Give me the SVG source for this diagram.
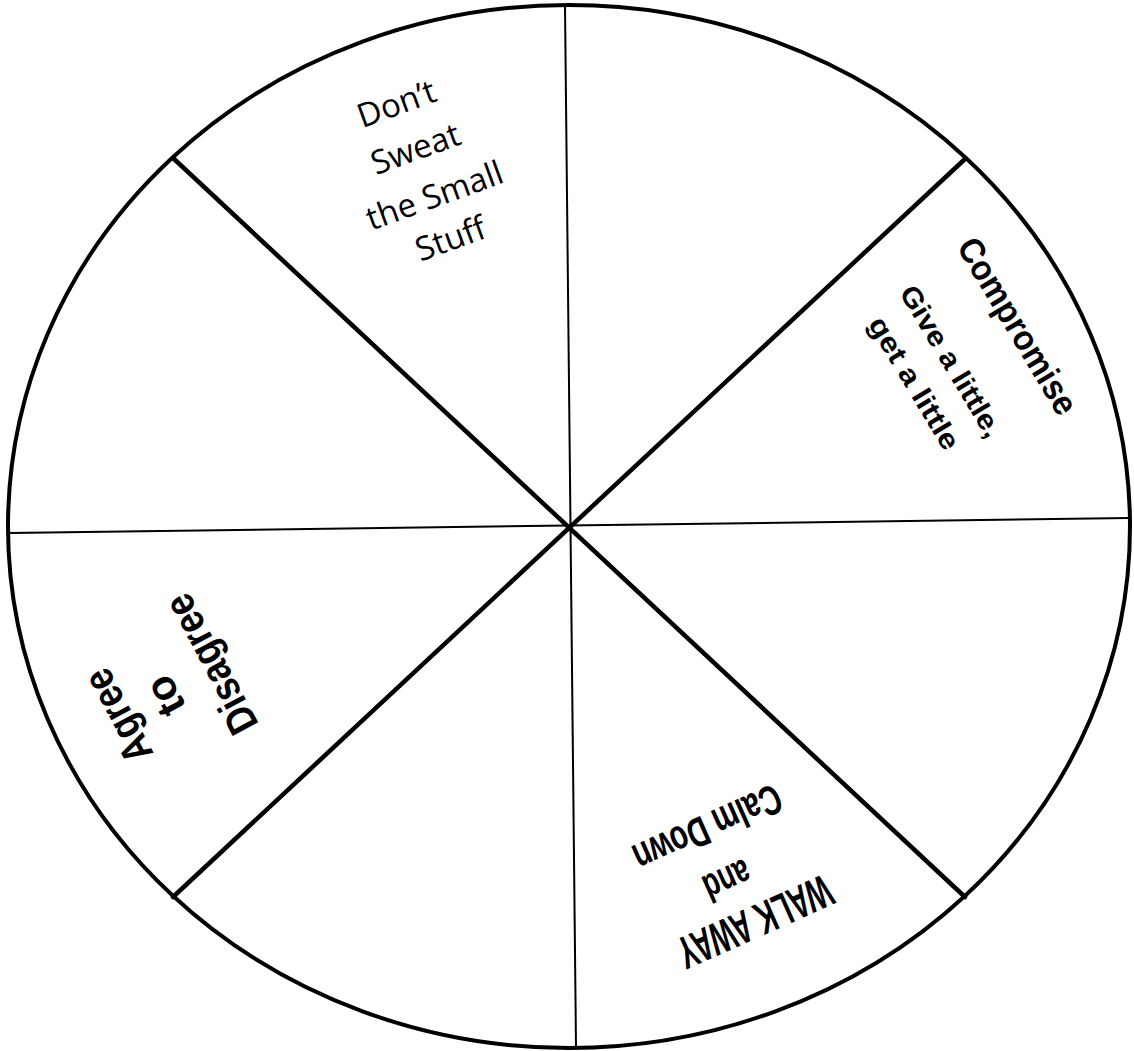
<svg xmlns="http://www.w3.org/2000/svg" width="1134" height="1051" viewBox="0 0 1134 1051">
<style>
.thin{stroke:#000;stroke-width:2;fill:none}
.thick{stroke:#000;stroke-width:4.5;fill:none;stroke-linecap:round}
.rim{stroke:#000;stroke-width:4;fill:#fff}
.hand{font-family:"Open Sans","Noto Sans",sans-serif;font-weight:normal;font-size:33px;fill:#000}
.bold{font-family:"Liberation Sans","Noto Sans",sans-serif;font-weight:bold;fill:#000}
.cond{font-family:"Liberation Sans","DejaVu Sans",sans-serif;font-weight:bold;fill:#000}
</style>
<rect width="1134" height="1051" fill="#fff"/>
<g id="wheel">
<ellipse class="rim" cx="569" cy="526.5" rx="561" ry="521.5"/>
</g>
<g id="connectors">
<line class="thin" x1="565" y1="6" x2="576" y2="1047"/>
<line class="thin" x1="9" y1="533" x2="1129" y2="518"/>
<line class="thick" x1="173" y1="158" x2="965" y2="897"/>
<line class="thick" x1="965" y1="159" x2="173" y2="897"/>
</g>
<g id="dont-sweat" text-anchor="middle">
<text class="hand" transform="translate(397,105) rotate(-20)" y="10">Don’t</text>
<text class="hand" transform="translate(416,150) rotate(-20)" y="10">Sweat</text>
<text class="hand" transform="translate(435,197) rotate(-20)" y="10">the Small</text>
<text class="hand" transform="translate(451,240) rotate(-20)" y="10">Stuff</text>
</g>
<g id="compromise" text-anchor="middle">
<text class="bold" font-size="35" transform="translate(1016,327) rotate(59)" y="10" textLength="200" lengthAdjust="spacingAndGlyphs">Compromise</text>
<text class="bold" font-size="28" transform="translate(950,362) rotate(59)" y="8" textLength="172" lengthAdjust="spacingAndGlyphs">Give a little,</text>
<text class="bold" font-size="28" transform="translate(913,384) rotate(59)" y="8" textLength="150" lengthAdjust="spacingAndGlyphs">get a little</text>
</g>
<g id="agree-to-disagree" text-anchor="middle">
<text class="bold" font-size="42" transform="translate(120,715) rotate(242)" y="12" textLength="100" lengthAdjust="spacingAndGlyphs">Agree</text>
<text class="bold" font-size="42" transform="translate(167,695) rotate(242)" y="12">to</text>
<text class="bold" font-size="42" transform="translate(213,663) rotate(242)" y="12" textLength="152" lengthAdjust="spacingAndGlyphs">Disagree</text>
</g>
<g id="walk-away" text-anchor="middle">
<text class="cond" font-size="46" transform="translate(755,922) rotate(156)" y="16" textLength="165" lengthAdjust="spacingAndGlyphs">WALK AWAY</text>
<text class="cond" font-size="40" transform="translate(727,880) rotate(156)" y="13" textLength="48" lengthAdjust="spacingAndGlyphs">and</text>
<text class="cond" font-size="42" transform="translate(707,827) rotate(156)" y="13" textLength="158" lengthAdjust="spacingAndGlyphs">Calm Down</text>
</g>
</svg>
